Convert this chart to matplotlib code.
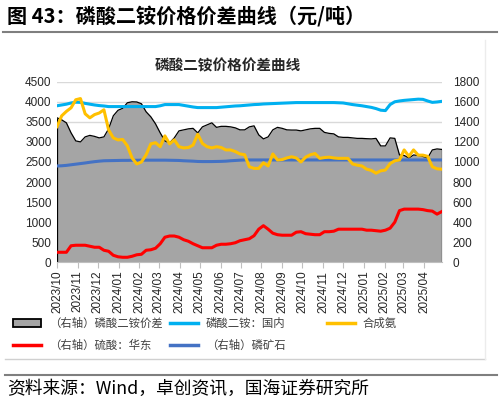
import numpy as np
import pandas as pd
import matplotlib
matplotlib.use('Agg')
import matplotlib.pyplot as plt
import matplotlib.dates as mdates
from matplotlib.patches import Patch
from matplotlib.lines import Line2D

plt.rcParams['font.family'] = ['Noto Sans CJK SC', 'DejaVu Sans']

# ── 数据（周度，2023-10-01 起） ──────────────────────────
dates = pd.date_range('2023-10-01', periods=83, freq='7D')

# (右轴) 磷酸二铵价差
spread = [1440, 1420, 1390, 1290, 1210, 1200, 1250, 1265, 1255, 1240,
          1250, 1330, 1460, 1515, 1535, 1590, 1600, 1598, 1580, 1500,
          1450, 1380, 1290, 1210, 1190, 1240, 1310, 1320, 1330, 1335,
          1290, 1350, 1370, 1390, 1345, 1355, 1355, 1350, 1340, 1320,
          1320, 1350, 1360, 1270, 1230, 1250, 1320, 1345, 1335, 1320,
          1318, 1318, 1310, 1320, 1330, 1335, 1335, 1295, 1285, 1280,
          1250, 1245, 1245, 1240, 1235, 1235, 1232, 1230, 1235, 1160,
          1160, 1240, 1235, 1070, 1065, 1040, 1070, 1065, 1055, 1040,
          1120, 1130, 1125]

# 磷酸二铵：国内
dap = [3900, 3920, 3940, 3970, 3990, 3985, 3960, 3940, 3920, 3905,
       3895, 3880, 3880, 3880, 3880, 3880, 3880, 3880, 3880, 3880,
       3880, 3880, 3900, 3930, 3930, 3930, 3930, 3910, 3890, 3870,
       3855, 3855, 3855, 3855, 3855, 3865, 3875, 3885, 3895, 3900,
       3910, 3920, 3930, 3935, 3945, 3950, 3955, 3960, 3965, 3970,
       3975, 3980, 3980, 3980, 3980, 3980, 3980, 3980, 3980, 3980,
       3975, 3970, 3950, 3930, 3915, 3900, 3880, 3860, 3830, 3790,
       3780, 3930, 4000, 4020, 4035, 4045, 4055, 4065, 4060, 4020,
       3985, 3995, 4010]

# 合成氨
ammonia = [3380, 3650, 3760, 3850, 4050, 4080, 3700, 3600, 3680, 3720,
           3800, 3300, 3100, 3050, 3060, 2900, 2600, 2450, 2500, 2680,
           2950, 2980, 2880, 3150, 2950, 3050, 2880, 2850, 2860, 2920,
           3190, 2960, 2880, 2850, 2880, 2860, 2800, 2800, 2760, 2700,
           2680, 2380, 2340, 2340, 2480, 2400, 2700, 2550, 2560, 2600,
           2630, 2600, 2500, 2620, 2680, 2710, 2590, 2610, 2620, 2600,
           2590, 2590, 2590, 2450, 2420, 2400, 2320, 2290, 2220, 2280,
           2300, 2460, 2530, 2550, 2800, 2640, 2800, 2670, 2670, 2640,
           2380, 2330, 2320]

# (右轴) 硫酸：华东
sulfuric = [100, 100, 100, 165, 170, 170, 170, 160, 150, 150,
            120, 110, 70, 55, 50, 50, 60, 75, 80, 120,
            125, 140, 185, 250, 262, 262, 250, 225, 210, 185,
            165, 145, 145, 145, 170, 180, 180, 185, 195, 215,
            225, 235, 265, 330, 365, 330, 290, 275, 270, 270,
            270, 300, 305, 285, 280, 275, 275, 305, 305, 310,
            330, 330, 330, 330, 330, 330, 320, 320, 315, 310,
            320, 340, 400, 515, 530, 530, 530, 530, 525, 515,
            510, 480, 505]

# (右轴) 磷矿石
rock = [960, 962, 966, 972, 978, 984, 990, 997, 1003, 1008,
        1012, 1013, 1014, 1015, 1016, 1016, 1017, 1017, 1018, 1018,
        1018, 1018, 1018, 1018, 1017, 1016, 1015, 1012, 1010, 1008,
        1005, 1004, 1004, 1004, 1005, 1006, 1008, 1012, 1015, 1018,
        1020, 1020, 1020, 1020, 1020, 1020, 1020, 1020, 1020, 1020,
        1020, 1020, 1020, 1020, 1020, 1020, 1020, 1020, 1020, 1020,
        1020, 1020, 1020, 1020, 1020, 1020, 1020, 1020, 1020, 1020,
        1020, 1020, 1020, 1020, 1020, 1020, 1020, 1020, 1020, 1020,
        1020, 1020, 1020]

# ── 图 ─────────────────────────────────────────────
W, H = 502, 403
fig = plt.figure(figsize=(W / 100, H / 100), dpi=100)
ax = fig.add_axes([57 / W, 1 - 262.3 / H, (441.7 - 57) / W, (262.3 - 81.7) / H])
ax2 = ax.twinx()
ax.set_zorder(ax2.get_zorder() + 1)
ax.patch.set_visible(False)

grey = '#a5a5a5'
c_red, c_rock, c_dap, c_nh3 = '#ff0000', '#4472c4', '#00b0f0', '#ffc000'

ax2.fill_between(dates, spread, 0, color=grey, lw=0, zorder=1)
ax2.plot(dates, spread, color='black', lw=0.9, zorder=2)
ax2.vlines([dates[0], dates[-1]], 0, [spread[0], spread[-1]], color='black', lw=0.9, zorder=2)
ax2.plot(dates, sulfuric, color=c_red, lw=2.2, zorder=3)
ax2.plot(dates, rock, color=c_rock, lw=2.2, zorder=3)

ax.plot(dates, dap, color=c_dap, lw=2.2)
ax.plot(dates, ammonia, color=c_nh3, lw=2.2)

ax.set_ylim(0, 4500)
ax2.set_ylim(0, 1800)
ax.set_yticks(np.arange(0, 4501, 500))
ax2.set_yticks(np.arange(0, 1801, 200))
ax.set_xlim(dates[0], dates[-1])

ax2.set_axisbelow(True)
ax2.yaxis.grid(True, color='#d9d9d9', lw=1.0, zorder=0)

ax.xaxis.set_major_locator(mdates.MonthLocator())
ax.xaxis.set_major_formatter(mdates.DateFormatter('%Y/%m'))
for lab in ax.get_xticklabels():
    lab.set_rotation(90)

for lab in ax.get_xticklabels() + ax.get_yticklabels() + ax2.get_yticklabels():
    lab.set_fontfamily(['Liberation Sans', 'DejaVu Sans'])
    lab.set_fontsize(8.5)
    lab.set_color('#262626')

ax.tick_params(axis='y', length=0, pad=4)
ax2.tick_params(axis='y', length=0, pad=8)
ax.tick_params(axis='x', length=4, color='#bfbfbf', pad=2)
ax2.tick_params(axis='x', length=0)
for a in (ax, ax2):
    for s in a.spines.values():
        s.set_visible(False)
ax.spines['bottom'].set_visible(True)
ax.spines['bottom'].set_color('#bfbfbf')

# 图内标题
fig.text(227.5 / W, 1 - 65 / H, '磷酸二铵价格价差曲线', ha='center', va='center',
         fontsize=10.5, fontweight='bold', color='#262626')

# 图例（逐项放置）
leg_items = [
    (Patch(facecolor=grey, edgecolor='black', lw=1.3), '（右轴）磷酸二铵价差', 13, 323),
    (Line2D([], [], color=c_dap, lw=2.5), '磷酸二铵：国内', 170, 323),
    (Line2D([], [], color=c_nh3, lw=2.5), '合成氨', 327, 323),
    (Line2D([], [], color=c_red, lw=2.5), '（右轴）硫酸：华东', 13, 345),
    (Line2D([], [], color=c_rock, lw=2.5), '（右轴）磷矿石', 170, 345),
]
for h, lab, lx, ly in leg_items:
    fig.legend([h], [lab], loc='center left', bbox_to_anchor=(lx / W, 1 - ly / H),
               frameon=False, prop={'family': 'Noto Sans CJK SC', 'size': 8.2},
               handlelength=2.5, handletextpad=0.65, borderaxespad=0, borderpad=0,
               labelcolor='#404040')

# 标题 / 来源 / 分隔线
fig.text(7 / W, 1 - 16 / H, '图 43：磷酸二铵价格价差曲线（元/吨）', ha='left', va='center',
         fontsize=14.5, fontweight='bold', color='black')
fig.add_artist(Line2D([3 / W, 497 / W], [1 - 32 / H] * 2, color='#7f7f7f', lw=1.5))
fig.add_artist(Line2D([5 / W, 485 / W], [1 - 359 / H] * 2, color='#d0d0d0', lw=1.0))
fig.add_artist(Line2D([485 / W, 485 / W], [1 - 359 / H, 1 - 40 / H], color='#ececec', lw=1.0))
fig.add_artist(Line2D([5 / W, 497 / W], [1 - 375 / H] * 2, color='#7f7f7f', lw=1.5))
fig.text(7 / W, 1 - 389 / H, '资料来源：Wind，卓创资讯，国海证券研究所', ha='left', va='center',
         fontsize=12.8, color='black')

fig.savefig('out.png', dpi=100)
